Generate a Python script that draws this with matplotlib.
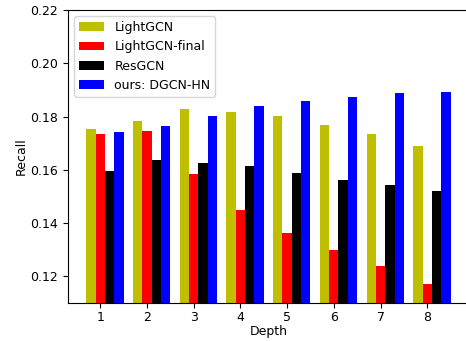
import numpy as np
import matplotlib
matplotlib.use("Agg")
import matplotlib.pyplot as plt

depths = [1, 2, 3, 4, 5, 6, 7, 8]
lightgcn = [0.1754, 0.1784, 0.1829, 0.1818, 0.1802, 0.1768, 0.1734, 0.1690]
lightgcn_final = [0.1736, 0.1746, 0.1585, 0.1450, 0.1364, 0.1300, 0.1240, 0.1173]
resgcn = [0.1596, 0.1638, 0.1626, 0.1615, 0.1589, 0.1563, 0.1544, 0.1521]
dgcn_hn = [0.1742, 0.1765, 0.1802, 0.1840, 0.1859, 0.1874, 0.1889, 0.1892]

x = np.array(depths)
w = 0.2

fig = plt.figure(figsize=(4.66, 3.41), dpi=100)
ax = fig.add_axes([0.146, 0.111, 0.86, 0.86])

ax.bar(x - w, lightgcn, w, color='y', label='LightGCN')
ax.bar(x, lightgcn_final, w, color='r', label='LightGCN-final')
ax.bar(x + w, resgcn, w, color='k', label='ResGCN')
ax.bar(x + 2 * w, dgcn_hn, w, color='b', label='ours: DGCN-HN')

ax.set_ylim(0.11, 0.22)
ax.set_xticks(depths)
ax.tick_params(labelsize=9)
ax.tick_params(axis='x', pad=2)
ax.set_xlabel('Depth', fontsize=9, labelpad=1)
ax.set_ylabel('Recall', fontsize=9, labelpad=2)
ax.legend(loc='upper left', fontsize=9)

fig.savefig('out.png', dpi=100)
